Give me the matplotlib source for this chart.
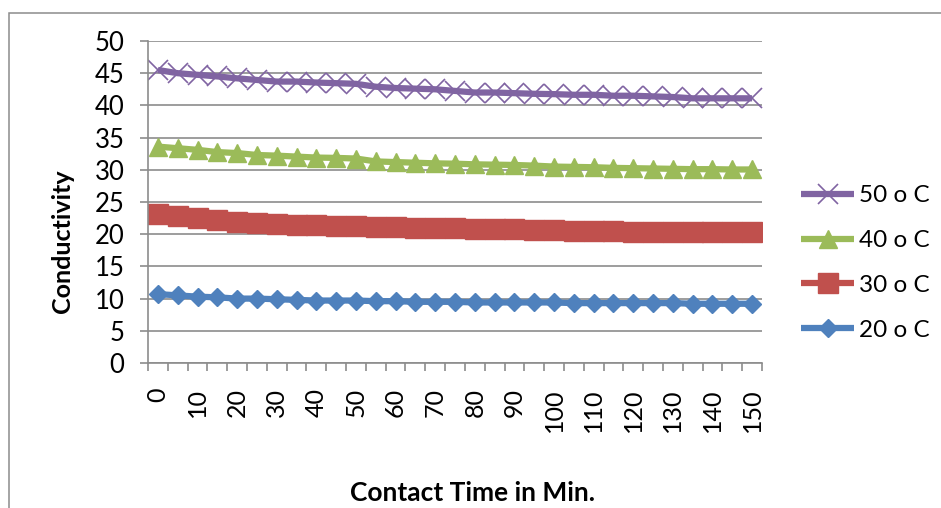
import numpy as np
import matplotlib
matplotlib.use("Agg")
import matplotlib.pyplot as plt
from matplotlib.patches import Rectangle

plt.rcParams['font.family'] = ['Lato', 'DejaVu Sans']

# contact time (min), one reading every 5 minutes
time_min = list(range(0, 155, 5))

cond_20 = [10.7, 10.5, 10.3, 10.2, 10.0, 10.0, 9.9, 9.8, 9.7, 9.7,
           9.7, 9.6, 9.6, 9.5, 9.5, 9.5, 9.4, 9.4, 9.4, 9.4,
           9.4, 9.3, 9.3, 9.3, 9.3, 9.3, 9.3, 9.2, 9.2, 9.2, 9.2]
cond_30 = [23.1, 22.8, 22.5, 22.2, 21.9, 21.7, 21.6, 21.5, 21.4, 21.3,
           21.2, 21.1, 21.05, 21.0, 20.9, 20.9, 20.85, 20.8, 20.75, 20.7,
           20.6, 20.55, 20.5, 20.45, 20.4, 20.4, 20.35, 20.35, 20.3, 20.3, 20.3]
cond_40 = [33.6, 33.35, 33.1, 32.75, 32.6, 32.3, 32.2, 32.05, 31.9, 31.85,
           31.75, 31.3, 31.2, 31.1, 31.0, 30.95, 30.85, 30.8, 30.75, 30.65,
           30.5, 30.45, 30.4, 30.3, 30.25, 30.2, 30.15, 30.1, 30.1, 30.05, 30.05]
cond_50 = [45.5, 45.0, 44.75, 44.5, 44.2, 43.95, 43.7, 43.7, 43.55, 43.45,
           43.35, 42.9, 42.7, 42.6, 42.5, 42.25, 42.0, 42.0, 41.9, 41.8,
           41.75, 41.65, 41.65, 41.5, 41.5, 41.4, 41.3, 41.1, 41.1, 41.1, 41.1]

series_labels = ['20 o C', '30 o C', '40 o C', '50 o C']
colors = ['#4F81BD', '#C0504D', '#9BBB59', '#8064A2']
markers = ['D', 's', '^', 'x']
msizes = [9.5, 14, 13, 14]

GRID = '#8c8c8c'
W, H = 941, 508

fig = plt.figure(figsize=(W / 100, H / 100), dpi=100)
ax = fig.add_axes([148 / W, 1 - 363 / H, (762 - 148) / W, (363 - 41) / H])

# category axis: one slot per reading
x = np.arange(len(time_min))
handles = []
for vals, lab, c, m, ms in zip([cond_20, cond_30, cond_40, cond_50],
                               series_labels, colors, markers, msizes):
    if m == 'x':
        h, = ax.plot(x, vals, color=c, lw=4.5, marker=m, ms=ms, mew=1.2,
                     mec=c, label=lab, solid_capstyle='butt')
    else:
        h, = ax.plot(x, vals, color=c, lw=4.5, marker=m, ms=ms, mec=c,
                     mfc=c, label=lab, solid_capstyle='butt')
    handles.append(h)

ax.set_xlim(-0.5, len(time_min) - 0.5)
ax.set_ylim(0, 50)
ax.set_yticks(np.arange(0, 51, 5))
ax.yaxis.grid(True, color=GRID, lw=1.2)
ax.set_axisbelow(True)

ax.set_xticks(x[::2])
ax.set_xticklabels([str(t) for t in time_min[::2]], rotation=90, va='top')
ax.set_xticks(np.arange(-0.5, len(time_min), 1), minor=True)
ax.tick_params(axis='x', which='major', length=0, pad=18, labelsize=18)
ax.tick_params(axis='x', which='minor', length=6, width=1.2, color=GRID)
ax.tick_params(axis='y', length=6, width=1.2, color=GRID, pad=11, labelsize=18.5)

for s in ['top', 'right']:
    ax.spines[s].set_visible(False)
for s in ['left', 'bottom']:
    ax.spines[s].set_color(GRID)
    ax.spines[s].set_linewidth(1.2)

fig.text(63 / W, 1 - 241 / H, 'Conductivity', rotation=90, ha='center',
         va='center', fontsize=18, fontweight='bold')
fig.text(472 / W, 1 - 493 / H, 'Contact Time in Min.', ha='center',
         va='center', fontsize=19, fontweight='bold')

leg = ax.legend(handles[::-1], series_labels[::-1], loc='center left',
                bbox_to_anchor=(801 / W, 1 - 263 / H),
                bbox_transform=fig.transFigure, frameon=False, fontsize=17.5,
                borderpad=0, handlelength=2.2, handletextpad=0.2,
                labelspacing=0.98, borderaxespad=0)

# outer chart frame
fig.add_artist(Rectangle((9 / W, -0.1), 1.2, 1.1 - 13 / H,
                         transform=fig.transFigure, fill=False,
                         edgecolor=GRID, lw=1.1))

fig.savefig('out.png', dpi=100)
